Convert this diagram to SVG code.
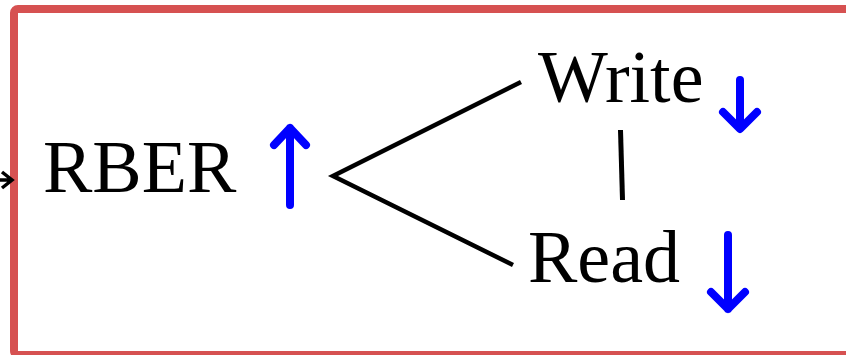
<svg xmlns="http://www.w3.org/2000/svg" width="846" height="355" viewBox="0 0 846 355">
<style>
.t{font-family:"Liberation Serif","Times New Roman",serif;font-size:74px;fill:#000}
.b{fill:none;stroke:#0000ff;stroke-width:8;stroke-linecap:round;stroke-linejoin:round}
.k{fill:none;stroke:#000;stroke-width:4.5;stroke-linecap:butt}
</style>
<rect width="846" height="355" fill="#fff"/>
<g id="frame"><rect x="14" y="9" width="850" height="346" rx="4" fill="none" stroke="#d65151" stroke-width="8"/></g>
<g id="incoming"><path d="M0 180 H12 M2 172 L12 180 L2 188" fill="none" stroke="#000" stroke-width="3.5"/></g>
<g id="rber"><text class="t" x="43" y="192">RBER</text>
<path class="b" d="M290 205 V128 M274 145 L290 128 L306 145"/></g>
<g id="write"><text class="t" x="538" y="102">Write</text>
<path class="b" d="M740 80 V128 M723 112 L740 129 L757 112"/></g>
<g id="read"><text class="t" x="528" y="282">Read</text>
<path class="b" d="M728 235 V309 M711 292 L728 309 L745 292"/></g>
<g id="connectors">
<path class="k" d="M521 82 L333 176 L513 265"/>
<path d="M620.5 130 L622.5 200" fill="none" stroke="#000" stroke-width="5"/>
</g>
</svg>
